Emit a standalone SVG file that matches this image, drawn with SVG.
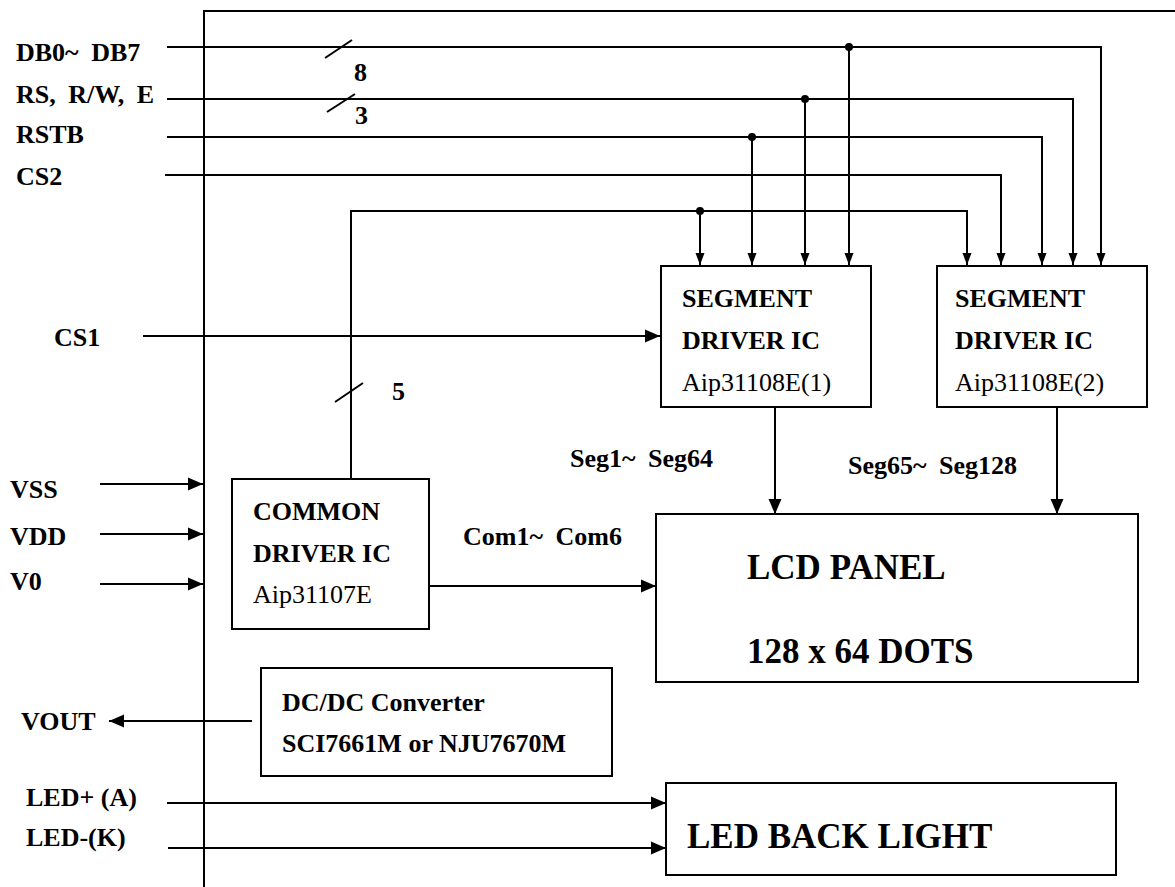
<svg xmlns="http://www.w3.org/2000/svg" width="1175" height="887" viewBox="0 0 1175 887">
<style>
text{font-family:"Liberation Serif","Times New Roman",serif;font-weight:bold;font-size:26px;fill:#000}
.reg{font-weight:normal}
.big{font-size:35px}
.ws{word-spacing:6px}
.ln{fill:none;stroke:#000;stroke-width:2}
.box{fill:#fff;stroke:#000;stroke-width:2}
.dot{fill:#000}
</style>
<defs>
<marker id="aS" markerWidth="12" markerHeight="10" refX="12" refY="5" orient="auto" markerUnits="userSpaceOnUse" overflow="visible"><path d="M0,0.5 L12,5 L0,9.5 Z" fill="#000"/></marker>
<marker id="aM" markerWidth="15" markerHeight="13" refX="15" refY="6.5" orient="auto" markerUnits="userSpaceOnUse" overflow="visible"><path d="M0,0 L15,6.5 L0,13 Z" fill="#000"/></marker>
</defs>
<rect width="1175" height="887" fill="#fff"/>
<g id="frame"><path class="ln" d="M204,887 V11 H1175"/></g>
<g id="connectors">
<path class="ln" d="M167,47 H1101 V265" marker-end="url(#aS)"/>
<path class="ln" d="M849,47 V265" marker-end="url(#aS)"/>
<path class="ln" d="M167,99 H1073 V265" marker-end="url(#aS)"/>
<path class="ln" d="M805,99 V265" marker-end="url(#aS)"/>
<path class="ln" d="M167,137 H1042 V265" marker-end="url(#aS)"/>
<path class="ln" d="M752,137 V265" marker-end="url(#aS)"/>
<path class="ln" d="M165,175 H1001 V265" marker-end="url(#aS)"/>
<path class="ln" d="M351,479 V211 H967 V265" marker-end="url(#aS)"/>
<path class="ln" d="M700,211 V265" marker-end="url(#aS)"/>
<circle class="dot" cx="849" cy="47" r="4"/>
<circle class="dot" cx="805" cy="99" r="4"/>
<circle class="dot" cx="752" cy="137" r="4"/>
<circle class="dot" cx="700" cy="211" r="4"/>
<path class="ln" d="M325,58 L352,40"/>
<path class="ln" d="M327,112 L355,94"/>
<path class="ln" d="M335,402 L363,383"/>
<path class="ln" d="M143,336 H660" marker-end="url(#aM)"/>
<path class="ln" d="M100,484 H203" marker-end="url(#aM)"/>
<path class="ln" d="M100,534 H203" marker-end="url(#aM)"/>
<path class="ln" d="M100,584 H203" marker-end="url(#aM)"/>
<path class="ln" d="M429,586 H656" marker-end="url(#aM)"/>
<path class="ln" d="M775,407 V514" marker-end="url(#aM)"/>
<path class="ln" d="M1057,407 V514" marker-end="url(#aM)"/>
<path class="ln" d="M252,721 H109" marker-end="url(#aM)"/>
<path class="ln" d="M167,803 H666" marker-end="url(#aM)"/>
<path class="ln" d="M168,848 H666" marker-end="url(#aM)"/>
</g>
<g id="labels">
<text x="16" y="61" class="ws">DB0~ DB7</text>
<text x="16" y="103" class="ws">RS, R/W, E</text>
<text x="16" y="143">RSTB</text>
<text x="16" y="185">CS2</text>
<text x="354" y="81">8</text>
<text x="355" y="124">3</text>
<text x="392" y="400">5</text>
<text x="54" y="346">CS1</text>
<text x="10" y="498">VSS</text>
<text x="10" y="545">VDD</text>
<text x="10" y="590">V0</text>
<text x="21" y="730">VOUT</text>
<text x="26" y="806">LED+ (A)</text>
<text x="26" y="846">LED-(K)</text>
<text x="570" y="467" class="ws">Seg1~ Seg64</text>
<text x="848" y="474" class="ws">Seg65~ Seg128</text>
<text x="463" y="545" class="ws">Com1~ Com6</text>
</g>
<g id="seg1">
<rect class="box" x="661" y="266" width="210" height="141"/>
<text x="682" y="307">SEGMENT</text>
<text x="682" y="349">DRIVER IC</text>
<text x="682" y="391" class="reg">Aip31108E(1)</text>
</g>
<g id="seg2">
<rect class="box" x="937" y="266" width="210" height="141"/>
<text x="955" y="307">SEGMENT</text>
<text x="955" y="349">DRIVER IC</text>
<text x="955" y="391" class="reg">Aip31108E(2)</text>
</g>
<g id="common">
<rect class="box" x="232" y="479" width="197" height="150"/>
<text x="253" y="520">COMMON</text>
<text x="253" y="562">DRIVER IC</text>
<text x="253" y="603" class="reg">Aip31107E</text>
</g>
<g id="lcd">
<rect class="box" x="656" y="514" width="482" height="168"/>
<text x="747" y="579" class="big">LCD PANEL</text>
<text x="747" y="663" class="big">128 x 64 DOTS</text>
</g>
<g id="dcdc">
<rect class="box" x="261" y="668" width="351" height="108"/>
<text x="282" y="711">DC/DC Converter</text>
<text x="282" y="752">SCI7661M or NJU7670M</text>
</g>
<g id="led">
<rect class="box" x="666" y="783" width="450" height="92"/>
<text x="687" y="848" class="big">LED BACK LIGHT</text>
</g>
</svg>
